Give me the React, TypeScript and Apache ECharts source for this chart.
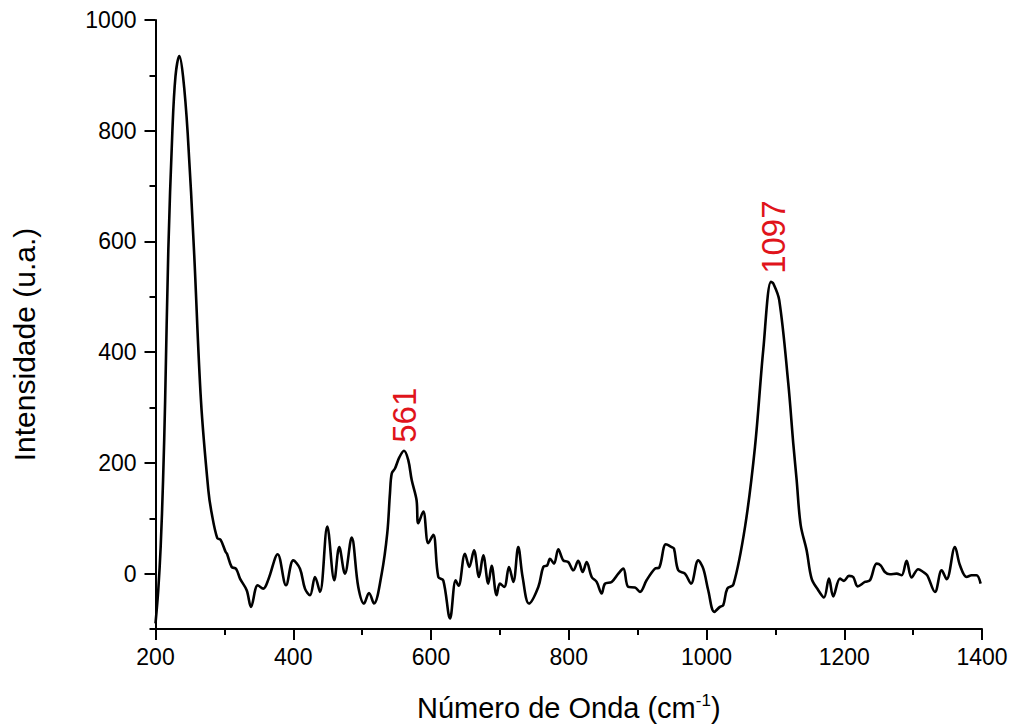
import React, { useEffect, useRef } from "react";
import * as echarts from "echarts";

// Spectrum (wavenumber cm^-1, intensity a.u.)
const waveNumbers = [200, 204, 207.5, 211, 214, 218.6, 224.4, 229, 234.6, 240, 246.7, 255.9, 266, 276.7, 281.6, 289.7, 294.6, 301.9, 303.8, 310.6, 316.9, 322.7, 332.4, 338.7, 348.4, 356.5, 364, 377.4, 389.5, 400, 409.8, 417, 424.3, 431.6, 438.8, 449.4, 459.6, 466.8, 475, 484.8, 494.4, 502.7, 510, 517.2, 528.4, 536.5, 540.4, 543, 547.7, 554, 560.8, 567, 572, 579, 581.5, 588.8, 596, 603.3, 610.6, 617.8, 627.6, 635.8, 640, 649.3, 655.6, 662.4, 669.7, 675.9, 683.2, 688, 695.3, 700, 706.4, 713.2, 719.5, 726.7, 733, 742.2, 755.8, 763, 768.8, 772.7, 778.6, 784.8, 792, 799.3, 806.6, 813.8, 820.2, 826, 833.3, 840.5, 847.8, 852.6, 862.3, 872, 879.2, 886.4, 896.1, 903.4, 913, 925.2, 931.4, 941.1, 949.4, 952.8, 959, 968.7, 977.5, 988, 995.3, 1002.5, 1011.3, 1019.5, 1024.3, 1030.2, 1039, 1056, 1070.4, 1082.4, 1093.6, 1097, 1105.6, 1118.7, 1126, 1130.9, 1136.7, 1145.4, 1152.6, 1162.3, 1170.5, 1177.8, 1184, 1193.8, 1199.6, 1206.8, 1213, 1219.5, 1230, 1237.3, 1247, 1252.8, 1259, 1266.3, 1276, 1283.3, 1290.5, 1297.8, 1307.4, 1314.7, 1320.5, 1331.7, 1341.4, 1348.7, 1360.7, 1368, 1377.7, 1385, 1392, 1398];
const intensities = [-90, -30, 48, 169, 313, 584, 796, 898, 935, 898, 796, 584, 313, 151, 109, 64, 61, 39, 36, 12, 9, -9, -30, -60, -21, -27, -10, 35, -21, 24, 9, -27, -39, -6, -33, 85, -12, 48, 0, 65, -24, -54, -35, -54, 0, 73, 145, 181, 190, 210, 222, 205, 169, 133, 91, 112, 55, 70, -6, -12, -81, -12, -22, 36, 12, 42, -6, 33, -18, 14, -39, -18, -24, 12, -15, 48, -6, -54, -24, 12, 15, 27, 18, 44, 24, 21, 6, 23, 3, 21, -6, -15, -36, -18, -15, 0, 9, -24, -25, -33, -12, 9, 11, 53, 48, 45, 6, 0, -18, 24, 9, -30, -69, -60, -57, -27, -20, 85, 229, 404, 527, 524, 494, 344, 235, 169, 88, 42, -9, -30, -43, -9, -41, -9, -13, -4, -6, -23, -15, -12, 18, 15, 3, -1, 0, -3, 23, -7, 8, 3, -3, -33, 6, -10, 48, 15, -6, -3, -3, -18];

const xTicks = [200, 400, 600, 800, 1000, 1200, 1400];
const yMajorTicks = [0, 200, 400, 600, 800, 1000];
const yMinorTicks = [-100, 100, 300, 500, 700, 900];

const peakPositions = [561, 1097];
const peakHeights = [222, 527];
const peakLabels = ["561", "1097"];

const FONT = "'Liberation Sans', Arial, sans-serif";

export default function App() {
  const ref = useRef<HTMLDivElement>(null);

  useEffect(() => {
    document.body.style.margin = "0";
    const chart = echarts.init(ref.current!, undefined, { renderer: "svg" });
    const data = waveNumbers.map((x, i) => [x, intensities[i]]);
    const axisLine = { show: true, onZero: false, lineStyle: { color: "#000", width: 2 } };
    const plain = (v: number) => String(v);

    chart.setOption({
      animation: false,
      backgroundColor: "#fff",
      grid: { left: 155.5, right: 31, top: 20, bottom: 98, containLabel: false },
      xAxis: {
        type: "value",
        min: xTicks[0],
        max: xTicks[xTicks.length - 1],
        interval: 200,
        axisLine,
        axisTick: { show: true, inside: false, length: 11, lineStyle: { color: "#000", width: 2 } },
        minorTick: { show: true, splitNumber: 2, length: 6, lineStyle: { color: "#000", width: 2 } },
        splitLine: { show: false },
        minorSplitLine: { show: false },
        axisLabel: { color: "#000", fontSize: 23, fontFamily: FONT, margin: 16, formatter: plain },
        name: "Número de Onda (cm{sup|-1})",
        nameLocation: "middle",
        nameGap: 63,
        nameTextStyle: {
          color: "#000",
          fontSize: 29,
          fontFamily: FONT,
          rich: {
            sup: { fontSize: 17, fontFamily: FONT, color: "#000", verticalAlign: "top", padding: [0, 0, 14, 0] },
          },
        },
      },
      yAxis: [
        {
          type: "value",
          min: -100,
          max: 1000,
          position: "left",
          axisLine,
          axisTick: {
            show: true,
            inside: false,
            length: 11,
            customValues: yMajorTicks,
            lineStyle: { color: "#000", width: 2 },
          },
          axisLabel: { color: "#000", fontSize: 23, fontFamily: FONT, margin: 19, customValues: yMajorTicks, formatter: plain },
          splitLine: { show: false },
          name: "Intensidade (u.a.)",
          nameLocation: "middle",
          nameRotate: 90,
          nameGap: 116,
          nameTextStyle: { color: "#000", fontSize: 30, fontFamily: FONT, padding: [0, 40, 0, 0] },
        },
        {
          type: "value",
          min: -100,
          max: 1000,
          position: "left",
          axisLine: { show: false, onZero: false },
          axisTick: {
            show: true,
            inside: false,
            length: 6,
            customValues: yMinorTicks,
            lineStyle: { color: "#000", width: 2 },
          },
          axisLabel: { show: false },
          splitLine: { show: false },
        },
      ],
      series: [
        {
          type: "line",
          data,
          showSymbol: false,
          smooth: 0.35,
          lineStyle: { color: "#000", width: 2.6 },
          silent: true,
        },
      ],
    });

    const graphics = peakPositions.map((x, i) => {
      const [px, py] = chart.convertToPixel({ gridIndex: 0 }, [x, peakHeights[i]]) as number[];
      return {
        type: "text",
        x: px,
        y: py - 8,
        rotation: Math.PI / 2,
        style: {
          text: peakLabels[i],
          fill: "#e0141b",
          fontSize: 33,
          fontFamily: FONT,
          align: "left",
          verticalAlign: "middle",
        },
      };
    });
    chart.setOption({ graphic: graphics });

    return () => chart.dispose();
  }, []);

  return (
    <div
      ref={ref}
      style={{ position: "absolute", left: 0, top: 0, width: 1013, height: 727 }}
    />
  );
}
